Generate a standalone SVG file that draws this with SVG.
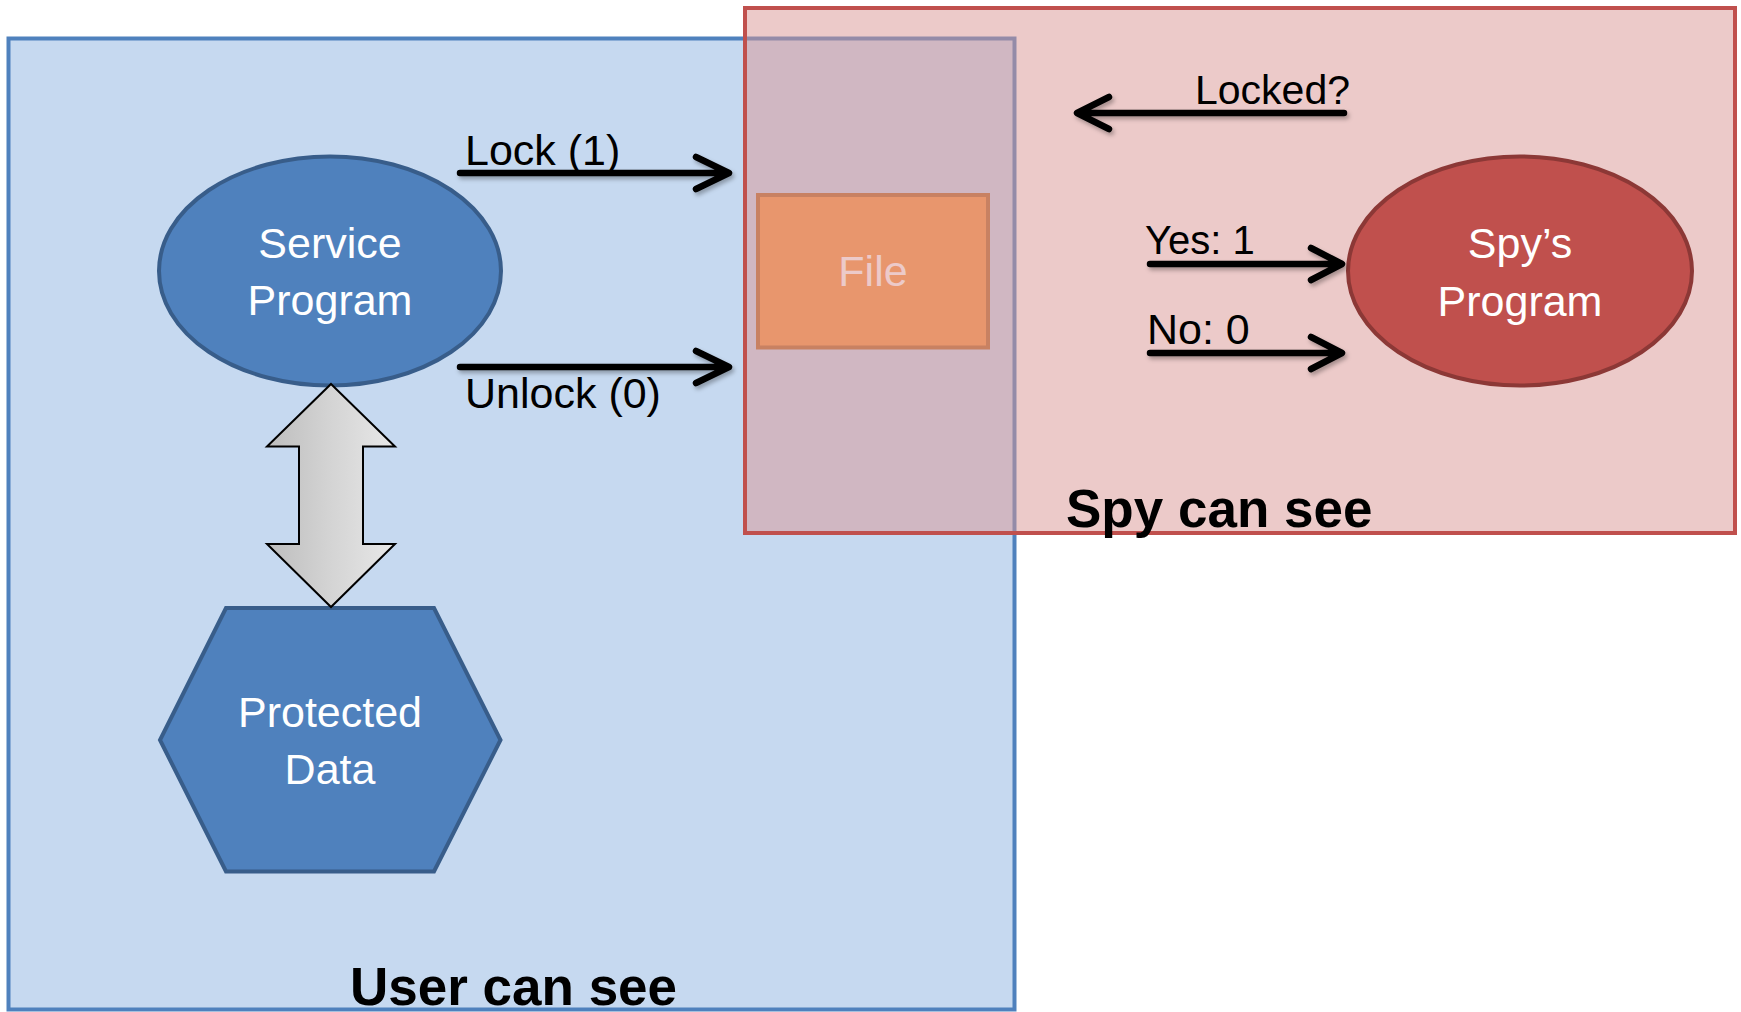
<svg xmlns="http://www.w3.org/2000/svg" width="1741" height="1012" viewBox="0 0 1741 1012">
  <defs>
    <filter id="sh" x="-10%" y="-50%" width="120%" height="200%">
      <feDropShadow dx="2" dy="3" stdDeviation="2" flood-color="#000" flood-opacity="0.3"/>
    </filter>
    <linearGradient id="grayGrad" x1="0" y1="0" x2="1" y2="0">
      <stop offset="0" stop-color="#bdbdbd"/>
      <stop offset="0.5" stop-color="#d4d4d4"/>
      <stop offset="1" stop-color="#e8e8e8"/>
    </linearGradient>
  </defs>
  <style>
    text { font-family: "Liberation Sans", Arial, sans-serif; }
    .lbl { font-size: 43px; fill: #000; }
    .node-txt { font-size: 43px; fill: #fff; text-anchor: middle; }
    .title { font-size: 53px; font-weight: bold; fill: #000; }
    .arrow { fill: none; stroke: #000; stroke-width: 6.5; stroke-linecap: round; stroke-linejoin: round; filter: url(#sh); }
    .blue-shape { fill: #4f81bd; stroke: #385d8a; stroke-width: 4; }
  </style>

  <!-- User region -->
  <g id="user-region">
    <rect x="8.5" y="38.5" width="1006" height="971" fill="#c6d9f0" stroke="#4f81bd" stroke-width="4"/>
    <text class="title" x="350" y="1005">User can see</text>
  </g>

  <g id="service-program">
    <ellipse class="blue-shape" cx="330" cy="271" rx="171" ry="114.5"/>
    <text class="node-txt" x="330" y="258">Service</text>
    <text class="node-txt" x="330" y="315">Program</text>
  </g>

  <g id="protected-data">
    <polygon class="blue-shape" points="226,608 434,608 500.5,740 434,871.5 226,871.5 160,740"/>
    <text class="node-txt" x="330" y="727">Protected</text>
    <text class="node-txt" x="330" y="784">Data</text>
  </g>

  <g id="file">
    <rect x="758" y="195" width="230" height="152.5" fill="#f79646" stroke="#b66d31" stroke-width="4"/>
    <text class="node-txt" x="873" y="286" style="fill:#fff">File</text>
  </g>

  <g id="connectors-left">
    <path d="M331 384 L395 446.5 L363 446.5 L363 544 L395 544 L331 607 L267 544 L299 544 L299 446.5 L267 446.5 Z" fill="url(#grayGrad)" stroke="#000" stroke-width="2" stroke-linejoin="miter"/>
    <path class="arrow" d="M460 173 H724 M696 157 L729 173 L696 189"/>
    <text class="lbl" x="465" y="165">Lock (1)</text>
    <path class="arrow" d="M460 367 H724 M696 351 L729 367 L696 383"/>
    <text class="lbl" x="465" y="408">Unlock (0)</text>
  </g>

  <!-- Spy region overlay -->
  <g id="spy-region">
    <rect x="745" y="8" width="990" height="525" fill="#d99694" fill-opacity="0.5" stroke="#c0504d" stroke-width="4"/>
    <text class="title" x="1066" y="527">Spy can see</text>
  </g>

  <g id="spys-program">
    <ellipse cx="1520" cy="271" rx="172" ry="114.5" fill="#c0504d" stroke="#8c3836" stroke-width="4"/>
    <text class="node-txt" x="1520" y="258">Spy’s</text>
    <text class="node-txt" x="1520" y="316">Program</text>
  </g>

  <g id="connectors">
    <path class="arrow" d="M1344 113 H1081 M1109 97 L1077 113 L1109 129"/>
    <text class="lbl" x="1350" y="104" text-anchor="end" style="font-size:41px">Locked?</text>
    <path class="arrow" d="M1150 264 H1337 M1311 248 L1342 264 L1311 280"/>
    <text class="lbl" x="1145" y="254" style="font-size:40px">Yes: 1</text>
    <path class="arrow" d="M1150 353 H1337 M1311 337 L1342 353 L1311 369"/>
    <text class="lbl" x="1147" y="344">No: 0</text>
  </g>
</svg>
